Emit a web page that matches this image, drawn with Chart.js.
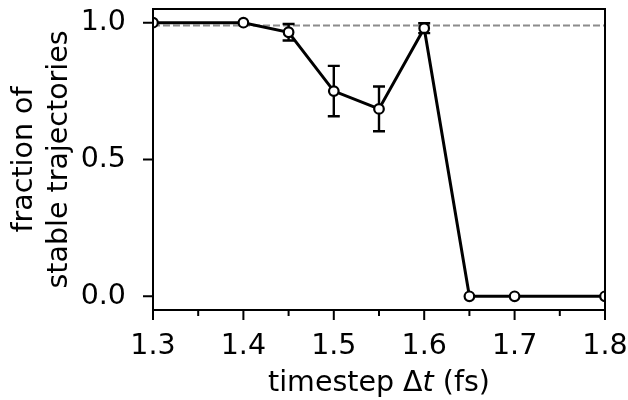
<!DOCTYPE html>
<html>
<head>
<meta charset="utf-8">
<script src="https://cdn.jsdelivr.net/npm/chart.js@4"></script>
<style>
  html, body { margin: 0; padding: 0; background: #fff; }
  #wrap { width: 628px; height: 400px; }
</style>
</head>
<body>
<div id="wrap"><canvas id="mychart"></canvas></div>
<script>
// timestep (fs) and fraction of stable runs
const timesteps = [1.3, 1.4, 1.45, 1.5, 1.55, 1.6, 1.65, 1.7, 1.8];
const stableFrac = [1.0, 1.0, 0.965, 0.75, 0.685, 0.98, 0.0, 0.0, 0.0];
const stableErr = [0, 0, 0.03, 0.092, 0.082, 0.018, 0, 0, 0];
const refLevel = 0.99;

const xMajor = [1.3, 1.4, 1.5, 1.6, 1.7, 1.8];
const xMinor = [1.35, 1.45, 1.55, 1.65, 1.75];
const yMajor = [0.0, 0.5, 1.0];

const FONT = "'DejaVu Sans', sans-serif";
const FS = 28.5;

// error bars + dashed reference line under the markers
const underlay = {
    id: 'underlay',
    beforeDatasetsDraw(chart) {
        const ctx = chart.ctx;
        const xs = chart.scales.x, ys = chart.scales.y;
        const area = chart.chartArea;
        ctx.save();
        ctx.beginPath();
        ctx.rect(area.left, area.top, area.right - area.left, area.bottom - area.top);
        ctx.clip();

        let yr = ys.getPixelForValue(refLevel);
        ctx.strokeStyle = '#8c8c8c';
        ctx.lineWidth = 2;
        ctx.setLineDash([7, 3]);
        ctx.beginPath();
        ctx.moveTo(area.left, yr);
        ctx.lineTo(area.right, yr);
        ctx.stroke();
        ctx.setLineDash([]);

        ctx.strokeStyle = '#000';
        ctx.lineWidth = 2.4;
        for (let i = 0; i < timesteps.length; i++) {
            if (!stableErr[i]) continue;
            let x = xs.getPixelForValue(timesteps[i]);
            let y1 = ys.getPixelForValue(stableFrac[i] + stableErr[i]);
            let y2 = ys.getPixelForValue(stableFrac[i] - stableErr[i]);
            ctx.beginPath();
            ctx.moveTo(x, y1); ctx.lineTo(x, y2);
            ctx.moveTo(x - 6, y1); ctx.lineTo(x + 6, y1);
            ctx.moveTo(x - 6, y2); ctx.lineTo(x + 6, y2);
            ctx.stroke();
        }
        ctx.restore();
    }
};

// box, tick marks and the x title
const frame = {
    id: 'frame',
    afterDraw(chart) {
        const ctx = chart.ctx;
        const xs = chart.scales.x, ys = chart.scales.y;
        const a = chart.chartArea;
        ctx.save();
        ctx.strokeStyle = '#000';
        ctx.lineWidth = 2;
        ctx.strokeRect(a.left, a.top, a.right - a.left, a.bottom - a.top);

        ctx.beginPath();
        xMajor.forEach(v => {
            let x = xs.getPixelForValue(v);
            ctx.moveTo(x, a.bottom); ctx.lineTo(x, a.bottom + 10);
        });
        xMinor.forEach(v => {
            let x = xs.getPixelForValue(v);
            ctx.moveTo(x, a.bottom); ctx.lineTo(x, a.bottom + 6);
        });
        yMajor.forEach(v => {
            let y = ys.getPixelForValue(v);
            ctx.moveTo(a.left, y); ctx.lineTo(a.left - 10, y);
        });
        ctx.stroke();

        // "timestep Δt (fs)" with italic t
        const parts = [['timestep Δ', 'normal'], ['t', 'italic'], [' (fs)', 'normal']];
        let total = 0;
        parts.forEach(p => {
            ctx.font = p[1] + ' ' + FS + 'px ' + FONT;
            total += ctx.measureText(p[0]).width;
        });
        let x = (a.left + a.right) / 2 - total / 2;
        ctx.fillStyle = '#000';
        ctx.textBaseline = 'alphabetic';
        parts.forEach(p => {
            ctx.font = p[1] + ' ' + FS + 'px ' + FONT;
            ctx.fillText(p[0], x, 391);
            x += ctx.measureText(p[0]).width;
        });
        ctx.restore();
    }
};

// keep the tick labels from pushing the plot area in
function noPad(s) {
    s.paddingTop = 0; s.paddingBottom = 0;
    s.paddingLeft = 0; s.paddingRight = 0;
}

var ctx = document.getElementById('mychart');

var myChart = new Chart(ctx, {
    type: 'line',
    data: {
        datasets: [{
            data: timesteps.map((t, i) => ({x: t, y: stableFrac[i]})),
            borderColor: '#000',
            borderWidth: 3,
            pointRadius: 4.8,
            pointBorderWidth: 2.2,
            pointBackgroundColor: '#fff',
            pointBorderColor: '#000',
            tension: 0,
            clip: 0
        }]
    },
    options: {
        responsive: true,
        maintainAspectRatio: false,
        animation: false,
        events: [],
        layout: { padding: { top: 9, right: 23, left: 0, bottom: 0 } },
        plugins: { legend: { display: false }, tooltip: { enabled: false } },
        scales: {
            x: {
                type: 'linear',
                min: 1.3,
                max: 1.8,
                grid: { display: false },
                border: { display: false },
                afterBuildTicks: s => { s.ticks = xMajor.map(v => ({value: v})); },
                afterFit: s => { s.height = 90; noPad(s); },
                ticks: {
                    color: '#000',
                    padding: 11,
                    maxRotation: 0,
                    font: { family: FONT, size: FS },
                    callback: v => v.toFixed(1)
                }
            },
            y: {
                min: -0.05,
                max: 1.05,
                grid: { display: false },
                border: { display: false },
                afterBuildTicks: s => { s.ticks = yMajor.map(v => ({value: v})); },
                afterFit: s => { s.width = 153; noPad(s); },
                ticks: {
                    color: '#000',
                    padding: 19,
                    font: { family: FONT, size: FS },
                    callback: v => v.toFixed(1)
                },
                title: {
                    display: true,
                    text: ['fraction of', 'stable trajectories'],
                    color: '#000',
                    font: { family: FONT, size: FS, lineHeight: '35px' },
                    padding: { top: 7.5, bottom: 0 }
                }
            }
        }
    },
    plugins: [underlay, frame]
});
</script>
</body>
</html>
